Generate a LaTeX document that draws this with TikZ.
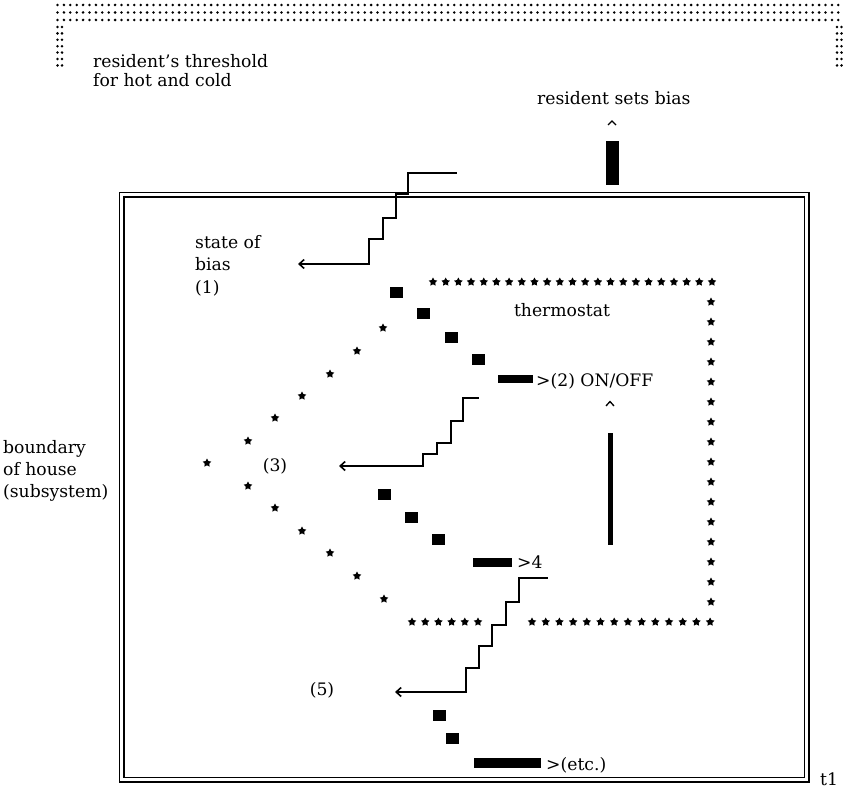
\documentclass[tikz,border=0pt]{standalone}
\usepackage{fontspec}
\setmainfont{DejaVu Serif}
\usetikzlibrary{shapes.geometric,arrows.meta}
\begin{document}
\begin{tikzpicture}[x=1pt,y=-1pt,
  lbl/.style={font=\fontsize{17.2}{21}\selectfont, inner sep=0pt},
  st/.style={star, star points=5, star point ratio=1.9, fill=black, inner sep=0pt, minimum size=9pt},
  sq/.style={fill=black, inner sep=0pt, minimum width=13pt, minimum height=11pt},
  barh/.style={fill=black, inner sep=0pt, minimum height=8pt},
  wire/.style={line width=1.6pt},
  tip/.style={{Straight Barb[length=5pt,width=9pt]}-},
  dotrow/.style={line width=2.8pt, line cap=round, dash pattern=on 0pt off 6.4pt},
  caret/.style={line width=1.3pt}
]
\useasboundingbox (0,0) rectangle (844,792);

% dotted band (resident's threshold)
\foreach \yy in {5,12.5,20} \draw[dotrow] (57.5,\yy) -- (844,\yy);
\draw[dotrow] (57.5,27) -- (57.5,66);
\draw[dotrow] (62,27) -- (62,66);
\draw[dotrow] (837,27) -- (837,66);
\draw[dotrow] (841.5,27) -- (841.5,66);

\node[lbl, anchor=base west] (thr1) at (93,67) {resident’s threshold};
\node[lbl, anchor=base west] (thr2) at (93,87) {for hot and cold};
\node[lbl, anchor=base west] (sets) at (537,104) {resident sets bias};

% resident bias input
\draw[caret] (608,125) -- (612,121) -- (616,125);
\node[fill=black, inner sep=0pt, minimum width=13pt, minimum height=44pt] (biasbar) at (612.5,163) {};

% house boundary
\draw[line width=1.4pt, double distance=3.2pt] (121.5,194.5) rectangle (806.5,779.5);
\node[lbl, anchor=base west] (t1) at (820,785) {t1};

\node[lbl, anchor=base west] (b1) at (3,453) {boundary};
\node[lbl, anchor=base west] (b2) at (3,475) {of house};
\node[lbl, anchor=base west] (b3) at (3,497) {(subsystem)};

% state of bias
\node[lbl, anchor=base west] (s1) at (195,248) {state of};
\node[lbl, anchor=base west] (s2) at (195,270) {bias};
\node[lbl, anchor=base west] (s3) at (195,293) {(1)};
\coordinate (c1a) at (298,264);
\coordinate (c1b) at (457,173);
\draw[wire, tip] (c1a) -- (369,264) -- (369,239) -- (383,239) -- (383,218) -- (396,218) -- (396,194) -- (408,194) -- (408,173) -- (c1b);

% thermostat
\foreach \i in {0,...,22} \node[st] (tt\i) at ({433+\i*12.68},282) {};
\foreach \i in {1,...,16} \node[st] (tr\i) at (711,{282+\i*20}) {};
\foreach \i in {0,...,13} \node[st] (tb\i) at ({532+\i*13.7},622) {};
\foreach \i in {0,...,5} \node[st] (tl\i) at ({412+\i*13.2},622) {};
\node[lbl, anchor=base] (thermo) at (562,316) {thermostat};
\draw[caret] (606,406) -- (610,401.5) -- (614,406);
\node[fill=black, inner sep=0pt, minimum width=5.5pt, minimum height=112pt] (vbar) at (610.5,489) {};

% first cascade
\node[sq] (a1) at (396,292) {};
\node[sq] (a2) at (423,313) {};
\node[sq] (a3) at (451,337) {};
\node[sq] (a4) at (478,359) {};
\node[barh, minimum width=35pt] (a5) at (515.5,379) {};
\node[lbl, anchor=base west] (onoff) at (536,386) {>(2) ON/OFF};

% diagonal stars
\foreach \p [count=\k] in {(383,328),(357,351),(330,374),(302,396),(275,418),(248,441),(207,463),(248,486),(275,508),(302,531),(330,553),(357,576),(384,599)}
  \node[st] (d\k) at \p {};
\node[lbl, anchor=base] (three) at (275,471) {(3)};

% second cascade
\coordinate (c2a) at (339,466);
\coordinate (c2b) at (479,398);
\draw[wire, tip] (c2a) -- (423,466) -- (423,454) -- (437,454) -- (437,443) -- (451,443) -- (451,421) -- (463,421) -- (463,398) -- (c2b);
\node[sq] (b4) at (384,494.5) {};
\node[sq] (b5) at (411,517) {};
\node[sq] (b6) at (438,539.5) {};
\node[barh, minimum width=39pt, minimum height=9pt] (b7) at (492.5,562) {};
\node[lbl, anchor=base west] (four) at (517,568) {>4};

% third cascade
\node[lbl, anchor=base] (five) at (322,695) {(5)};
\coordinate (c3a) at (395,692);
\coordinate (c3b) at (548,578);
\draw[wire, tip] (c3a) -- (466,692) -- (466,668) -- (479,668) -- (479,646) -- (492,646) -- (492,625) -- (506,625) -- (506,602) -- (519,602) -- (519,578) -- (c3b);
\node[sq] (e1) at (439,715) {};
\node[sq] (e2) at (452.5,738) {};
\node[barh, minimum width=67pt, minimum height=10pt] (e3) at (507.5,763) {};
\node[lbl, anchor=base west] (etc) at (546,770) {>(etc.)};
\end{tikzpicture}
\end{document}
